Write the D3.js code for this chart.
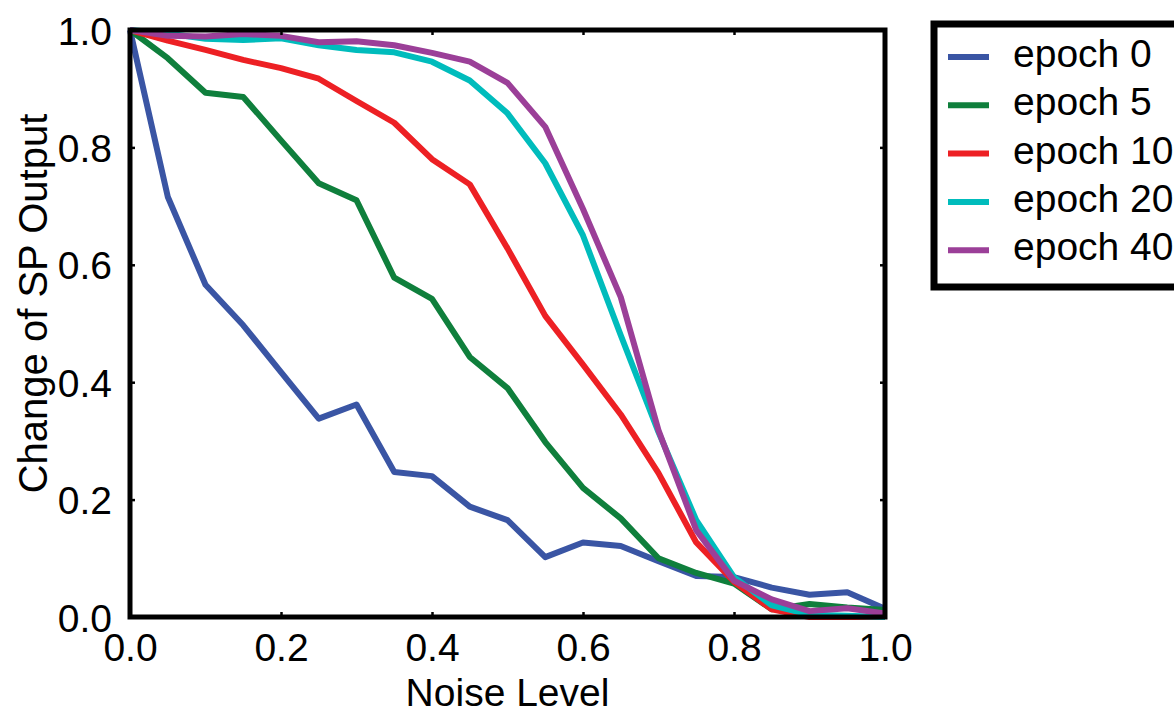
<!DOCTYPE html>
<html>
<head>
<meta charset="utf-8">
<script src="https://cdn.jsdelivr.net/npm/d3@7"></script>
<style>
    body { margin: 0; background: #fff; }
    svg text { font-family: "Liberation Sans", Arial, Helvetica, sans-serif; fill: #000; }
</style>
</head>
<body>
<svg id="chart" width="1174" height="717"></svg>
<script>
// noise levels on the x axis
const noise = [0, 0.05, 0.1, 0.15, 0.2, 0.25, 0.3, 0.35, 0.4, 0.45, 0.5,
    0.55, 0.6, 0.65, 0.7, 0.75, 0.8, 0.85, 0.9, 0.95, 1.0];

// change of SP output per epoch
const epoch0 = [1.0, 0.716, 0.566, 0.497, 0.417, 0.338, 0.362, 0.247, 0.24, 0.188, 0.165,
    0.102, 0.127, 0.121, 0.095, 0.07, 0.068, 0.05, 0.038, 0.042, 0.014];
const epoch5 = [1.0, 0.952, 0.893, 0.886, 0.812, 0.739, 0.71, 0.578, 0.542, 0.443, 0.39,
    0.298, 0.22, 0.168, 0.1, 0.075, 0.057, 0.013, 0.022, 0.016, 0.012];
const epoch10 = [1.0, 0.982, 0.966, 0.949, 0.935, 0.917, 0.879, 0.842, 0.78, 0.737, 0.628,
    0.513, 0.43, 0.345, 0.245, 0.127, 0.06, 0.013, 0.0, 0.0, 0.0];
const epoch20 = [1.0, 0.994, 0.985, 0.983, 0.986, 0.974, 0.966, 0.962, 0.946, 0.914, 0.858,
    0.773, 0.65, 0.48, 0.315, 0.165, 0.068, 0.02, 0.004, 0.002, 0.0];
const epoch40 = [1.0, 0.99, 0.989, 0.993, 0.99, 0.979, 0.981, 0.974, 0.961, 0.946, 0.91,
    0.835, 0.695, 0.545, 0.318, 0.148, 0.062, 0.03, 0.01, 0.015, 0.006];

const seriesNames = ["epoch 0", "epoch 5", "epoch 10", "epoch 20", "epoch 40"];
const seriesValues = [epoch0, epoch5, epoch10, epoch20, epoch40];
const seriesColors = ["#3a55a4", "#0f7f3c", "#ed2024", "#00bcbc", "#9b3f98"];

const tickValues = [0, 0.2, 0.4, 0.6, 0.8, 1.0];

const svg = d3.select("#chart");

// plot area
const plotLeft = 130, plotRight = 885, plotTop = 30, plotBottom = 617;

const x = d3.scaleLinear().domain([0, 1]).range([plotLeft, plotRight]);
const y = d3.scaleLinear().domain([0, 1]).range([plotBottom, plotTop]);

// lines
const line = d3.line()
    .x((d, i) => x(noise[i]))
    .y((d) => y(d));

svg.append("g")
    .selectAll("path")
    .data(seriesValues)
    .join("path")
    .attr("d", line)
    .attr("fill", "none")
    .attr("stroke", (d, i) => seriesColors[i])
    .attr("stroke-width", 6)
    .attr("stroke-linejoin", "round");

// small inward ticks on all four sides
const tickLen = 5;
const bottomAxis = svg.append("g")
    .attr("transform", `translate(0, ${plotBottom})`)
    .call(d3.axisBottom(x).tickValues(tickValues).tickSize(-tickLen).tickFormat(d3.format(".1f")).tickPadding(16));
const leftAxis = svg.append("g")
    .attr("transform", `translate(${plotLeft}, 0)`)
    .call(d3.axisLeft(y).tickValues(tickValues).tickSize(-tickLen).tickFormat(d3.format(".1f")).tickPadding(18));
svg.append("g")
    .attr("transform", `translate(0, ${plotTop})`)
    .call(d3.axisTop(x).tickValues(tickValues).tickSize(-tickLen).tickFormat(""));
svg.append("g")
    .attr("transform", `translate(${plotRight}, 0)`)
    .call(d3.axisRight(y).tickValues(tickValues).tickSize(-tickLen).tickFormat(""));

svg.selectAll(".domain").remove();
svg.selectAll(".tick line").attr("stroke", "#000").attr("stroke-width", 2.5);
bottomAxis.selectAll("text").style("font-size", "39px").attr("dy", "0.71em");
leftAxis.selectAll("text").style("font-size", "39px").attr("dy", "0.36em");

// frame
svg.append("rect")
    .attr("x", plotLeft)
    .attr("y", plotTop)
    .attr("width", plotRight - plotLeft)
    .attr("height", plotBottom - plotTop)
    .attr("fill", "none")
    .attr("stroke", "#000")
    .attr("stroke-width", 5);

// axis titles
svg.append("text")
    .attr("x", (plotLeft + plotRight) / 2)
    .attr("y", 706)
    .attr("text-anchor", "middle")
    .style("font-size", "39px")
    .text("Noise Level");

svg.append("text")
    .attr("transform", `translate(47, ${(110 + 497) / 2}) rotate(-90)`)
    .attr("text-anchor", "middle")
    .style("font-size", "40px")
    .text("Change of SP Output");

// legend
const legend = svg.append("g");
legend.append("rect")
    .attr("x", 934)
    .attr("y", 24)
    .attr("width", 300)
    .attr("height", 263)
    .attr("fill", "#fff")
    .attr("stroke", "#000")
    .attr("stroke-width", 7);

const rows = legend.selectAll("g.row")
    .data(seriesNames)
    .join("g")
    .attr("class", "row")
    .attr("transform", (d, i) => `translate(0, ${57 + i * 48.3})`);

rows.append("line")
    .attr("x1", 948)
    .attr("x2", 989)
    .attr("stroke", (d, i) => seriesColors[i])
    .attr("stroke-width", 6);

rows.append("text")
    .attr("x", 1013)
    .attr("y", 10)
    .style("font-size", "39px")
    .text((d) => d);
</script>
</body>
</html>
